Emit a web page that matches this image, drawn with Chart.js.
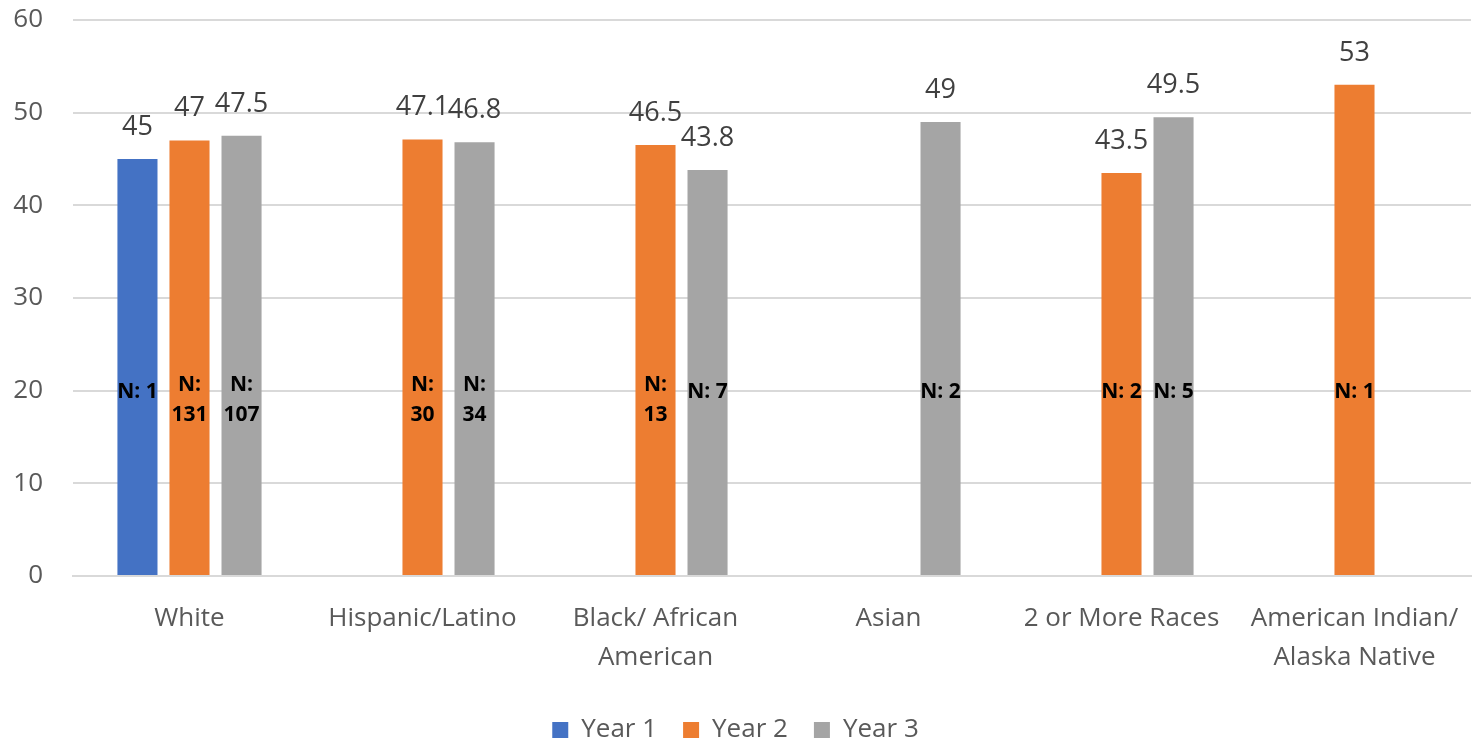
<!DOCTYPE html>
<html>
<head>
<meta charset="utf-8">
<script src="https://cdn.jsdelivr.net/npm/chart.js@4"></script>
<style>
  html, body { margin: 0; padding: 0; background: #fff; }
  #wrap { width: 1472px; height: 738px; position: relative; }
</style>
</head>
<body>
<div id="wrap"><canvas id="bar-chart"></canvas></div>
<script>
// categories and series
const categories = ["White", "Hispanic/Latino", ["Black/ African", "American"], "Asian", "2 or More Races", ["American Indian/", "Alaska Native"]];
const year1 = [45, null, null, null, null, null];
const year2 = [47, 47.1, 46.5, null, 43.5, 53];
const year3 = [47.5, 46.8, 43.8, 49, 49.5, null];
// sample sizes shown inside the bars
const n1 = [1, null, null, null, null, null];
const n2 = [131, 30, 13, null, 2, 1];
const n3 = [107, 34, 7, 2, 5, null];
const nCounts = [n1, n2, n3];
const yMin = 0, yMax = 60, yStep = 10;
const nLabelAt = 20; // value where the N labels sit

const FONT = "'Open Sans', 'Liberation Sans', sans-serif";

// draws value labels above bars and "N: x" labels inside them
const barLabels = {
  id: 'barLabels',
  afterDatasetsDraw(chart) {
    const ctx = chart.ctx;
    const yScale = chart.scales.y;
    ctx.save();
    chart.data.datasets.forEach((ds, di) => {
      const meta = chart.getDatasetMeta(di);
      meta.data.forEach((bar, i) => {
        const v = ds.data[i];
        if (v === null || v === undefined) return;
        // value on top
        ctx.font = "27px " + FONT;
        ctx.fillStyle = "#404040";
        ctx.textAlign = "center";
        ctx.textBaseline = "middle";
        ctx.fillText(String(v), bar.x, bar.y - 32);
        // N label
        const n = nCounts[di][i];
        if (n === null) return;
        ctx.font = "bold 21px " + FONT;
        ctx.fillStyle = "#000";
        const txt = "N: " + n;
        const yc = yScale.getPixelForValue(nLabelAt) + 1;
        if (ctx.measureText(txt).width > bar.width + 4) {
          ctx.fillText("N:", bar.x, yc - 7);
          ctx.fillText(String(n), bar.x, yc + 23);
        } else {
          ctx.fillText(txt, bar.x, yc);
        }
      });
    });
    ctx.restore();
  }
};

new Chart(document.getElementById("bar-chart"), {
  type: 'bar',
  data: {
    labels: categories,
    datasets: [
      { label: "Year 1", data: year1, backgroundColor: "#4472C4" },
      { label: "Year 2", data: year2, backgroundColor: "#ED7D31" },
      { label: "Year 3", data: year3, backgroundColor: "#A5A5A5" }
    ]
  },
  options: {
    responsive: true,
    maintainAspectRatio: false,
    animation: false,
    categoryPercentage: 0.67,
    barPercentage: 0.77,
    layout: { padding: { top: 20, right: 1, left: 0, bottom: 0 } },
    scales: {
      x: {
        grid: { display: false, drawTicks: false },
        border: { display: true, color: "#D9D9D9", width: 2 },
        ticks: {
          autoSkip: false,
          maxRotation: 0,
          color: "#595959",
          padding: 23,
          font: { family: FONT, size: 26, lineHeight: 1.5 }
        },
        afterFit(s) { s.height = 115; s.paddingLeft = 0; s.paddingRight = 0; }
      },
      y: {
        min: yMin,
        max: yMax,
        ticks: {
          stepSize: yStep,
          color: "#595959",
          padding: 30,
          font: { family: FONT, size: 26 }
        },
        grid: { color: "#D9D9D9", lineWidth: 2, drawTicks: false },
        border: { display: false },
        afterFit(s) { s.width = 73; s.paddingTop = 0; s.paddingBottom = 0; }
      }
    },
    plugins: {
      legend: {
        position: 'bottom',
        maxHeight: 47,
        labels: {
          boxWidth: 16,
          boxHeight: 16,
          padding: 26,
          color: "#595959",
          font: { family: FONT, size: 26 }
        }
      },
      tooltip: { enabled: false }
    }
  },
  plugins: [barLabels]
});
</script>
</body>
</html>
